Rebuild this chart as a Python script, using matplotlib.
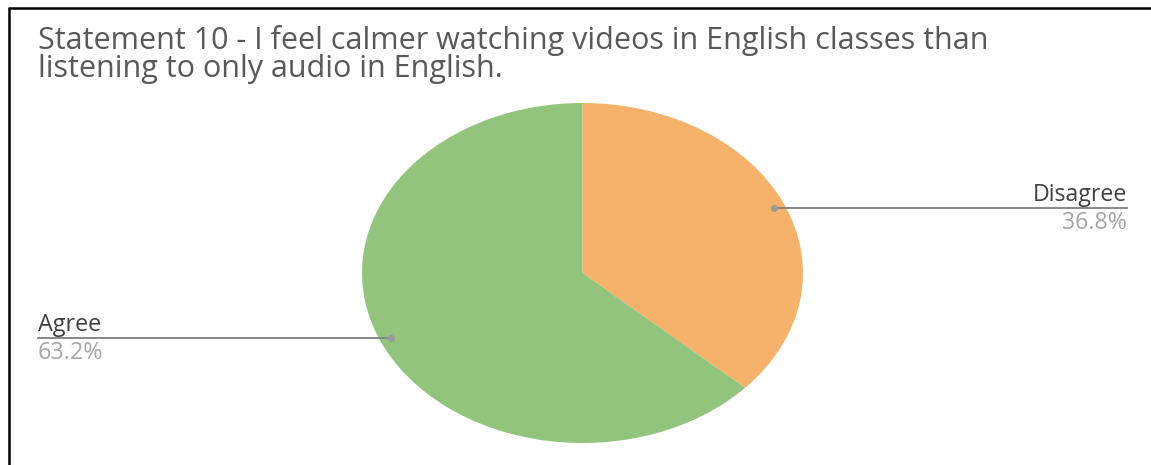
import numpy as np
import matplotlib
matplotlib.use("Agg")
import matplotlib.pyplot as plt

W, H = 1151, 465

labels = ["Disagree", "Agree"]
shares = [36.8, 63.2]
colors = ["#F6B26B", "#93C47D"]
title_lines = ["Statement 10 - I feel calmer watching videos in English classes than",
               "listening to only audio in English."]

FONT = "Open Sans"

fig = plt.figure(figsize=(W / 100, H / 100), dpi=100)
fig.patch.set_facecolor("white")
renderer = fig.canvas.get_renderer()

# pie stretched to an ellipse
pie_ax = fig.add_axes([362 / W, (H - 443) / H, 441 / W, 340 / H])
wedges, _ = pie_ax.pie(shares, colors=colors, startangle=90, counterclock=False,
                       wedgeprops=dict(linewidth=0))
pie_ax.set_aspect("auto")
pie_ax.set_xlim(-1, 1)
pie_ax.set_ylim(-1, 1)

# overlay in pixel units for frame, title and leader lines
top = fig.add_axes([0, 0, 1, 1])
top.set_xlim(0, W)
top.set_ylim(H, 0)
top.axis("off")
top.patch.set_alpha(0)


def fit_text(x, y, s, width, size, **kw):
    # shrink/grow the font until the string spans the given pixel width
    t = top.text(x, y, s, fontsize=size, family=FONT, va="baseline", **kw)
    w = t.get_window_extent(renderer).width
    t.set_fontsize(size * width / w)
    return t


# frame
top.plot([8, W], [8, 8], color="black", lw=1.8, solid_capstyle="butt")
top.plot([9, 9], [8, H], color="black", lw=1.8, solid_capstyle="butt")

t1 = fit_text(38, 49, title_lines[0], 950, 19, color="#595959", ha="left")
top.text(38, 77, title_lines[1], fontsize=t1.get_fontsize(), family=FONT,
         color="#595959", ha="left", va="baseline")

to_px = pie_ax.transData + top.transData.inverted()
for w, lab, val in zip(wedges, labels, shares):
    mid = np.deg2rad((w.theta1 + w.theta2) / 2)
    px, py = to_px.transform((0.95 * np.cos(mid), 0.95 * np.sin(mid)))
    if px > W / 2:
        x_end, ha = 1127, "right"
    else:
        x_end, ha = 38, "left"
    top.plot([px, x_end], [py, py], color="#7F7F7F", lw=1.3)
    top.plot(px, py, "o", color="#9A9A9A", markersize=5, markeredgewidth=0)
    lt = fit_text(x_end, py - 7, lab, 94 if ha == "right" else 63, 13,
                  color="#404040", ha=ha)
    top.text(x_end, py + 21, f"{val:.1f}%", fontsize=lt.get_fontsize(),
             color="#A6A6A6", family=FONT, ha=ha, va="baseline")

fig.savefig("out.png", dpi=100, facecolor="white")
